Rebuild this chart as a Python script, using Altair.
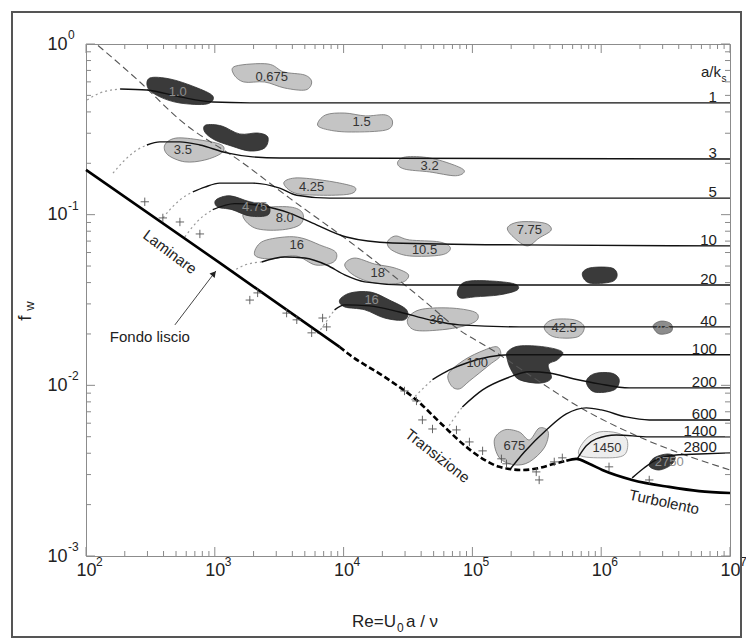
import altair as alt
import pandas as pd

W, H = 644, 512
FONT = "Liberation Sans"

# ---------------- smooth bed: laminar, transition, turbulent ----------------
lam_re = [100, 1100, 9300]
lam_f = [0.183, 0.052, 0.0168]

trans_re = [9300, 11150, 20800, 36800, 57500, 89700, 124000, 162000, 244000, 331000, 432000, 536000]
trans_f = [0.0168, 0.0151, 0.0112, 0.0082, 0.00594, 0.00436, 0.00366, 0.00333, 0.00319, 0.00328, 0.00347, 0.00361]

turb_re = [536000, 640000, 807000, 1.02e6, 1.74e6, 3.37e6, 5.75e6, 1e7]
turb_f = [0.00361, 0.00371, 0.00347, 0.00319, 0.00279, 0.00254, 0.0024, 0.00234]

# boundary of the rough-turbulent regime
lim_re = [124, 262, 536, 1650, 3810, 7780, 10700, 38800, 79300, 143000, 292000, 675000, 1.97e6, 1e7]
lim_f = [0.98, 0.599, 0.359, 0.201, 0.125, 0.0847, 0.0711, 0.033, 0.0211, 0.0161, 0.0112, 0.00747, 0.00499, 0.00319]

# ---------------- rough-bed curves, one per relative roughness a/ks ----------------
r1_dot_re = [102, 128, 184]
r1_dot_f = [0.470, 0.516, 0.545]
r1_re = [184, 297, 536, 964, 1870, 1e7]
r1_f = [0.545, 0.538, 0.490, 0.457, 0.452, 0.452]

r3_dot_re = [162, 200, 248, 297]
r3_dot_f = [0.175, 0.209, 0.239, 0.256]
r3_re = [297, 375, 536, 766, 1240, 1970, 3190, 1e7]
r3_f = [0.256, 0.267, 0.267, 0.256, 0.230, 0.218, 0.215, 0.212]

r5_dot_re = [375, 448, 536, 675]
r5_dot_f = [0.0906, 0.107, 0.122, 0.136]
r5_re = [675, 836, 1090, 1970, 3190, 4330, 7780, 1e7]
r5_f = [0.136, 0.145, 0.153, 0.153, 0.143, 0.130, 0.125, 0.125]

r10_dot_re = [585, 725, 964]
r10_dot_f = [0.0740, 0.0906, 0.107]
r10_re = [964, 1430, 2440, 3810, 5750, 10500, 24000, 231000, 1e7]
r10_f = [0.107, 0.116, 0.112, 0.102, 0.0893, 0.0740, 0.0683, 0.0665, 0.0656]

r20_dot_re = [1360, 1710, 2310]
r20_dot_f = [0.0461, 0.0507, 0.0528]
r20_re = [2310, 3490, 4990, 7380, 10200, 14600, 30800, 1e7]
r20_f = [0.0528, 0.0565, 0.0557, 0.0507, 0.0444, 0.0404, 0.0387, 0.0387]

r40_dot_re = [6280, 7380, 8510]
r40_dot_f = [0.0200, 0.0238, 0.0277]
r40_re = [8510, 10200, 15900, 27200, 46500, 79300, 231000, 1e7]
r40_f = [0.0277, 0.0296, 0.0292, 0.0269, 0.0242, 0.0226, 0.0220, 0.0220]

r100_dot_re = [33700, 40300, 49000]
r100_dot_f = [0.0082, 0.0094, 0.0108]
r100_re = [49000, 66400, 94800, 136000, 194000, 1e7]
r100_f = [0.0108, 0.0123, 0.0137, 0.0147, 0.0151, 0.0151]

r200_dot_re = [62800, 72400, 83600]
r200_dot_f = [0.00548, 0.00644, 0.00747]
r200_re = [83600, 120000, 184000, 277000, 395000, 618000, 964000, 1.65e6, 1e7]
r200_f = [0.00747, 0.0094, 0.0110, 0.0120, 0.0118, 0.0109, 0.0102, 0.00966, 0.00966]

r600_re = [194000, 253000, 375000, 536000, 766000, 1.0e6, 1.56e6, 2.36e6, 1e7]
r600_f = [0.00319, 0.00407, 0.00548, 0.0068, 0.00738, 0.00718, 0.00653, 0.00627, 0.00627]

r1400_re = [652000, 766000, 914000, 1.31e6, 2.36e6, 1e7]
r1400_f = [0.00371, 0.00442, 0.00485, 0.00512, 0.00499, 0.00499]

r2800_re = [1.74e6, 2.15e6, 2.67e6, 3.81e6, 5.75e6, 1e7]
r2800_f = [0.00287, 0.00328, 0.00366, 0.00391, 0.00396, 0.00402]

ak_labels = ["1", "3", "5", "10", "20", "40", "100", "200", "600", "1400", "2800"]
ak_f = [0.452, 0.212, 0.125, 0.0656, 0.0387, 0.0220, 0.0151, 0.00966, 0.00627, 0.00499, 0.00402]

# ---------------- measured data clouds (outline vertices) ----------------
# light clouds
b0675_re = [1455, 2580, 3430, 4990, 5650, 5070, 3490, 2440, 1680, 1400]
b0675_f = [0.743, 0.764, 0.686, 0.658, 0.599, 0.538, 0.552, 0.599, 0.599, 0.667]
b15_re = [6280, 7240, 10200, 14800, 21200, 24000, 21200, 11500, 7780]
b15_f = [0.335, 0.384, 0.394, 0.379, 0.384, 0.349, 0.313, 0.305, 0.313]
b35_re = [409, 499, 766, 1130, 1130, 836, 585, 432]
b35_f = [0.256, 0.281, 0.274, 0.256, 0.230, 0.209, 0.204, 0.224]
b32_re = [26200, 30300, 46500, 72400, 86700, 73800, 46500, 29700]
b32_f = [0.201, 0.218, 0.215, 0.195, 0.180, 0.169, 0.178, 0.185]
b425_re = [3430, 4170, 6520, 10200, 12400, 11100, 6520, 4170]
b425_f = [0.153, 0.164, 0.160, 0.151, 0.143, 0.132, 0.130, 0.134]
b80_re = [1650, 2150, 3810, 4810, 4560, 3190, 2040]
b80_f = [0.0995, 0.109, 0.111, 0.102, 0.0871, 0.0813, 0.0836]
b775_re = [187000, 231000, 361000, 409000, 330000, 267000, 212000]
b775_f = [0.0836, 0.0906, 0.0893, 0.0813, 0.073, 0.0656, 0.073]
b105_re = [21900, 25300, 32500, 55500, 67500, 57500, 32500, 23600]
b105_f = [0.0692, 0.075, 0.0711, 0.0692, 0.0638, 0.0581, 0.0573, 0.0621]
b16_re = [2040, 2310, 3490, 4720, 6520, 8670, 8360, 6070, 4250, 2670]
b16_f = [0.0581, 0.0692, 0.074, 0.073, 0.0665, 0.0604, 0.0528, 0.0507, 0.0573, 0.0550]
b18_re = [10200, 12200, 17400, 24800, 31900, 27700, 17400, 12200]
b18_f = [0.0507, 0.0557, 0.0514, 0.0488, 0.0444, 0.0398, 0.0398, 0.0438]
b36_re = [31300, 38800, 66400, 104000, 109000, 86700, 55500, 35500]
b36_f = [0.0242, 0.0277, 0.0284, 0.0269, 0.0242, 0.0223, 0.0211, 0.0211]
b425b_re = [361000, 417000, 618000, 738000, 652000, 432000]
b425b_f = [0.0217, 0.0242, 0.0242, 0.0220, 0.0192, 0.0192]
b100_re = [68700, 65200, 86700, 124000, 156000, 165000, 136000, 94800, 79300]
b100_f = [0.00993, 0.0117, 0.0141, 0.0161, 0.0168, 0.0149, 0.0132, 0.0106, 0.00953]
b675_re = [148000, 177000, 231000, 277000, 330000, 388000, 361000, 277000, 212000, 162000]
b675_f = [0.00479, 0.00548, 0.00533, 0.00479, 0.00562, 0.00533, 0.00430, 0.00356, 0.00342, 0.00376]
b1450_re = [675000, 752000, 964000, 1.33e6, 1.59e6, 1.51e6, 1.05e6]
b1450_f = [0.00391, 0.00479, 0.00533, 0.00526, 0.00479, 0.00391, 0.00376]

# dark clouds
d10_re = [313, 448, 700, 964, 867, 536, 375, 303]
d10_f = [0.632, 0.624, 0.560, 0.496, 0.445, 0.451, 0.490, 0.552]
d2_re = [851, 1130, 1560, 2150, 2580, 2440, 1870, 1360, 1000, 836]
d2_f = [0.335, 0.331, 0.297, 0.301, 0.285, 0.246, 0.236, 0.252, 0.274, 0.305]
d475_re = [1020, 1310, 1870, 2580, 2580, 1870, 1360, 1050]
d475_f = [0.122, 0.129, 0.119, 0.114, 0.0995, 0.0982, 0.107, 0.111]
d20a_re = [76600, 88300, 136000, 212000, 223000, 162000, 105000, 80700]
d20a_f = [0.0357, 0.0404, 0.0409, 0.0393, 0.0362, 0.0339, 0.0330, 0.0325]
d20b_re = [713000, 822000, 1.20e6, 1.33e6, 1.20e6, 807000]
d20b_f = [0.0450, 0.0488, 0.0488, 0.0444, 0.0404, 0.0398]
d16_re = [9310, 11300, 16200, 22700, 30800, 29700, 20800, 14600, 10200]
d16_f = [0.0316, 0.0348, 0.0352, 0.0316, 0.0277, 0.0242, 0.0248, 0.0277, 0.0288]
d48_re = [2.53e6, 2.92e6, 3.49e6, 3.49e6, 2.82e6]
d48_f = [0.0223, 0.0238, 0.0229, 0.0206, 0.0200]
d100_re = [187000, 231000, 361000, 499000, 456000, 388000, 409000, 330000, 231000, 200000, 187000]
d100_f = [0.0157, 0.0170, 0.0168, 0.0157, 0.0141, 0.0132, 0.0110, 0.0103, 0.0108, 0.0123, 0.0141]
d200_re = [766000, 883000, 1.20e6, 1.38e6, 1.26e6, 883000]
d200_f = [0.0105, 0.0117, 0.0118, 0.0108, 0.0094, 0.00914]
d2750_re = [2.36e6, 2.58e6, 3.25e6, 3.75e6, 3.49e6, 2.82e6]
d2750_f = [0.00337, 0.00376, 0.00396, 0.00381, 0.00342, 0.00319]

light_text = ["0.675", "1.5", "3.5", "3.2", "4.25", "8.0", "7.75", "10.5", "16", "18", "36", "42.5", "100", "675", "1450"]
light_text_re = [2770, 13800, 565, 46500, 5650, 3490, 277000, 42500, 4330, 18400, 52600, 516000, 109000, 212000, 1.11e6]
light_text_f = [0.641, 0.349, 0.239, 0.193, 0.145, 0.0957, 0.0813, 0.0621, 0.0665, 0.0455, 0.0242, 0.0217, 0.0135, 0.00442, 0.0043]

dark_text = ["1.0", "4.75", "16", "48", "2750"]
dark_text_re = [516, 2040, 16500, 3.03e6, 3.37e6]
dark_text_f = [0.524, 0.111, 0.0316, 0.0220, 0.00356]

# experimental points on smooth bed
cross_re = [286, 395, 536, 766, 1870, 2150, 3610, 4330, 5650, 6870, 7380, 29700, 36800, 40900,
            49000, 75200, 94800, 120000, 168000, 184000, 313000, 330000, 432000, 499000, 1.15e6, 2.36e6]
cross_f = [0.119, 0.0957, 0.0906, 0.0771, 0.0316, 0.0348, 0.0265, 0.0242, 0.0203, 0.0248, 0.0220, 0.00927,
           0.00810, 0.00627, 0.00555, 0.00548, 0.00466, 0.00413, 0.00371, 0.00347, 0.00311, 0.00279,
           0.00356, 0.00376, 0.00333, 0.00279]

# annotations
note_text = ["Laminare", "Fondo liscio", "Transizione", "Turbolento"]
note_re = [448, 313, 53600, 3.08e6]
note_f = [0.0604, 0.0192, 0.00386, 0.00207]
note_angle = [37, 0, 38, 12]

arrow_re = [490, 1020]
arrow_f = [0.0226, 0.0468]

decades_re = [1e2, 1e3, 1e4, 1e5, 1e6, 1e7]
decades_re_exp = ["2", "3", "4", "5", "6", "7"]
decades_f = [1.0, 0.1, 0.01, 0.001]
decades_f_exp = ["0", "-1", "-2", "-3"]


# ---------------- helpers ----------------
def path_frame(name, re, f):
    return pd.DataFrame({"name": name, "k": list(range(len(re))), "re": re, "f": f})


def paths(items):
    return pd.concat([path_frame(n, r, f) for n, r, f in items], ignore_index=True)


x_axis = alt.Axis(values=decades_re, labelExpr="'10'", ticks=False, domain=False, grid=False,
                  labelFont=FONT, labelFontSize=18, labelColor="#222", labelPadding=5,
                  labelFlush=False, labelOverlap=False, title=None)
y_axis = alt.Axis(values=decades_f, labelExpr="'10'", ticks=False, domain=False, grid=False,
                  labelFont=FONT, labelFontSize=18, labelColor="#222", labelPadding=19,
                  labelFlush=False, labelOverlap=False, title=None)

X = alt.X("re:Q", scale=alt.Scale(type="log", domain=[1e2, 1e7]), axis=x_axis)
Y = alt.Y("f:Q", scale=alt.Scale(type="log", domain=[1e-3, 1]), axis=y_axis)

light_df = paths([("0.675", b0675_re, b0675_f), ("1.5", b15_re, b15_f), ("3.5", b35_re, b35_f),
                  ("3.2", b32_re, b32_f), ("4.25", b425_re, b425_f), ("8.0", b80_re, b80_f),
                  ("7.75", b775_re, b775_f), ("10.5", b105_re, b105_f), ("16", b16_re, b16_f),
                  ("18", b18_re, b18_f), ("36", b36_re, b36_f), ("42.5", b425b_re, b425b_f),
                  ("100", b100_re, b100_f), ("675", b675_re, b675_f)])
pale_df = paths([("1450", b1450_re, b1450_f)])
dark_df = paths([("1.0", d10_re, d10_f), ("2", d2_re, d2_f), ("4.75", d475_re, d475_f),
                 ("20a", d20a_re, d20a_f), ("20b", d20b_re, d20b_f), ("16", d16_re, d16_f),
                 ("100", d100_re, d100_f), ("200", d200_re, d200_f), ("2750", d2750_re, d2750_f)])
d48_df = paths([("48", d48_re, d48_f)])

dot_df = paths([("1", r1_dot_re, r1_dot_f), ("3", r3_dot_re, r3_dot_f), ("5", r5_dot_re, r5_dot_f),
                ("10", r10_dot_re, r10_dot_f), ("20", r20_dot_re, r20_dot_f), ("40", r40_dot_re, r40_dot_f),
                ("100", r100_dot_re, r100_dot_f), ("200", r200_dot_re, r200_dot_f)])
rough_df = paths([("1", r1_re, r1_f), ("3", r3_re, r3_f), ("5", r5_re, r5_f), ("10", r10_re, r10_f),
                  ("20", r20_re, r20_f), ("40", r40_re, r40_f), ("100", r100_re, r100_f),
                  ("200", r200_re, r200_f), ("600", r600_re, r600_f), ("1400", r1400_re, r1400_f),
                  ("2800", r2800_re, r2800_f)])

enc_path = dict(x=X, y=Y, detail="name:N", order="k:Q")

blob_light = alt.Chart(light_df).mark_line(
    interpolate="cardinal-closed", fill="#c4c4c4", stroke="#707070", strokeWidth=0.8
).encode(**enc_path)
blob_pale = alt.Chart(pale_df).mark_line(
    interpolate="cardinal-closed", fill="#ededed", stroke="#8a8a8a", strokeWidth=0.8
).encode(**enc_path)
blob_dark = alt.Chart(dark_df).mark_line(
    interpolate="cardinal-closed", fill="#3a3a3a", stroke="#2b2b2b", strokeWidth=0.8
).encode(**enc_path)
blob_48 = alt.Chart(d48_df).mark_line(
    interpolate="cardinal-closed", fill="#8c8c8c", stroke="#666", strokeWidth=0.8
).encode(**enc_path)

dotted = alt.Chart(dot_df).mark_line(
    interpolate="monotone", color="#9a9a9a", strokeWidth=1.2, strokeDash=[2, 3]
).encode(**enc_path)
limit = alt.Chart(path_frame("lim", lim_re, lim_f)).mark_line(
    interpolate="monotone", color="#555", strokeWidth=1.1, strokeDash=[7, 4]
).encode(**enc_path)
rough = alt.Chart(rough_df).mark_line(
    interpolate="monotone", color="#111", strokeWidth=1.4
).encode(**enc_path)
laminar = alt.Chart(path_frame("lam", lam_re, lam_f)).mark_line(
    color="#000", strokeWidth=2.6
).encode(**enc_path)
transition = alt.Chart(path_frame("tr", trans_re, trans_f)).mark_line(
    interpolate="monotone", color="#000", strokeWidth=2.6, strokeDash=[6, 3]
).encode(**enc_path)
turbulent = alt.Chart(path_frame("tu", turb_re, turb_f)).mark_line(
    interpolate="monotone", color="#000", strokeWidth=2.6
).encode(**enc_path)

crosses = alt.Chart(pd.DataFrame({"re": cross_re, "f": cross_f})).mark_point(
    shape="M-1,0L1,0M0,-1L0,1", size=70, filled=False, stroke="#555", strokeWidth=0.9, opacity=1
).encode(x=X, y=Y)

light_lab = alt.Chart(pd.DataFrame({"re": light_text_re, "f": light_text_f, "t": light_text})).mark_text(
    font=FONT, fontSize=13, color="#333"
).encode(x=X, y=Y, text="t:N")
dark_lab = alt.Chart(pd.DataFrame({"re": dark_text_re, "f": dark_text_f, "t": dark_text})).mark_text(
    font=FONT, fontSize=13, color="#8e8e8e"
).encode(x=X, y=Y, text="t:N")

ak_lab = alt.Chart(pd.DataFrame({"re": [7.9e6] * len(ak_labels), "f": ak_f, "t": ak_labels})).mark_text(
    font=FONT, fontSize=15, color="#222", align="right", baseline="alphabetic", dy=-1
).encode(x=X, y=Y, text="t:N")
ak_head = alt.Chart(pd.DataFrame({"re": [8.5e6], "f": [0.686], "t": ["a/k"]})).mark_text(
    font=FONT, fontSize=15, color="#222", align="right", baseline="middle"
).encode(x=X, y=Y, text="t:N")
ak_sub = alt.Chart(pd.DataFrame({"re": [8.6e6], "f": [0.62], "t": ["s"]})).mark_text(
    font=FONT, fontSize=10, color="#222", align="left", baseline="middle"
).encode(x=X, y=Y, text="t:N")

notes = alt.Chart(pd.DataFrame({"re": note_re, "f": note_f, "t": note_text, "a": note_angle})).mark_text(
    font=FONT, fontSize=15, color="#222"
).encode(x=X, y=Y, text="t:N", angle=alt.Angle("a:Q", scale=None))

arrow = alt.Chart(pd.DataFrame({"re": [arrow_re[0]], "f": [arrow_f[0]], "re2": [arrow_re[1]], "f2": [arrow_f[1]]})).mark_rule(
    color="#444", strokeWidth=1
).encode(x=X, y=Y, x2="re2:Q", y2="f2:Q")
arrow_head = alt.Chart(pd.DataFrame({"re": [985], "f": [0.0452]})).mark_point(
    shape="triangle-up", filled=True, size=45, angle=40, color="#222", opacity=1
).encode(x=X, y=Y)

# ---------------- inward ticks on all four sides ----------------
minor_re = [m * d for d in [1e2, 1e3, 1e4, 1e5, 1e6] for m in range(2, 10)]
minor_f = [m * d for d in [1e-3, 1e-2, 1e-1] for m in range(2, 10)]
TICK = "#8a8a8a"
maj_x = pd.DataFrame({"re": decades_re})
min_x = pd.DataFrame({"re": minor_re})
maj_y = pd.DataFrame({"f": decades_f})
min_y = pd.DataFrame({"f": minor_f})

ticks = [
    alt.Chart(maj_x).mark_rule(color=TICK).encode(x=X, y=alt.value(H), y2=alt.value(H - 9)),
    alt.Chart(min_x).mark_rule(color=TICK).encode(x=X, y=alt.value(H), y2=alt.value(H - 5)),
    alt.Chart(maj_x).mark_rule(color=TICK).encode(x=X, y=alt.value(0), y2=alt.value(9)),
    alt.Chart(min_x).mark_rule(color=TICK).encode(x=X, y=alt.value(0), y2=alt.value(5)),
    alt.Chart(maj_y).mark_rule(color=TICK).encode(y=Y, x=alt.value(0), x2=alt.value(9)),
    alt.Chart(min_y).mark_rule(color=TICK).encode(y=Y, x=alt.value(0), x2=alt.value(5)),
    alt.Chart(maj_y).mark_rule(color=TICK).encode(y=Y, x=alt.value(W), x2=alt.value(W - 9)),
    alt.Chart(min_y).mark_rule(color=TICK).encode(y=Y, x=alt.value(W), x2=alt.value(W - 5)),
]

# exponents of the decade labels
x_exp = alt.Chart(pd.DataFrame({"re": decades_re, "t": decades_re_exp})).mark_text(
    font=FONT, fontSize=12, color="#222", align="left", baseline="top", dx=10
).encode(x=X, y=alt.value(H + 1), text="t:N")
y_exp = alt.Chart(pd.DataFrame({"f": decades_f, "t": decades_f_exp})).mark_text(
    font=FONT, fontSize=12, color="#222", align="left", baseline="middle", dy=-9
).encode(y=Y, x=alt.value(-18), text="t:N")

# axis titles
one = pd.DataFrame({"z": [0]})
titles = [
    alt.Chart(one).mark_text(font=FONT, fontSize=19, color="#222", angle=270, text="f").encode(
        x=alt.value(-61), y=alt.value(274)),
    alt.Chart(one).mark_text(font=FONT, fontSize=13, color="#222", angle=270, text="w").encode(
        x=alt.value(-56), y=alt.value(262)),
    alt.Chart(one).mark_text(font=FONT, fontSize=17, color="#222", align="right", text="Re=U").encode(
        x=alt.value(310), y=alt.value(578)),
    alt.Chart(one).mark_text(font=FONT, fontSize=12, color="#222", align="left", text="0").encode(
        x=alt.value(311), y=alt.value(584)),
    alt.Chart(one).mark_text(font=FONT, fontSize=17, color="#222", align="left", text="a / \u03bd").encode(
        x=alt.value(320), y=alt.value(578)),
]

frame = alt.Chart(one).mark_rect(fill="transparent", stroke="#555", strokeWidth=2).encode(
    x=alt.value(-74), x2=alt.value(655), y=alt.value(-32), y2=alt.value(593))

chart = alt.layer(
    blob_light, blob_pale, blob_dark, blob_48,
    dotted, limit, rough, laminar, transition, turbulent,
    crosses, light_lab, dark_lab, ak_lab, ak_head, ak_sub, notes, arrow, arrow_head,
    *ticks, x_exp, y_exp, *titles, frame,
).properties(
    width=W, height=H,
    autosize="none",
    padding={"left": 86, "top": 44, "right": 16, "bottom": 86},
    background="white",
).configure_view(stroke="#8c8c8c", strokeWidth=1)

chart.save("out.html", embed_options={"renderer": "svg", "actions": False})
